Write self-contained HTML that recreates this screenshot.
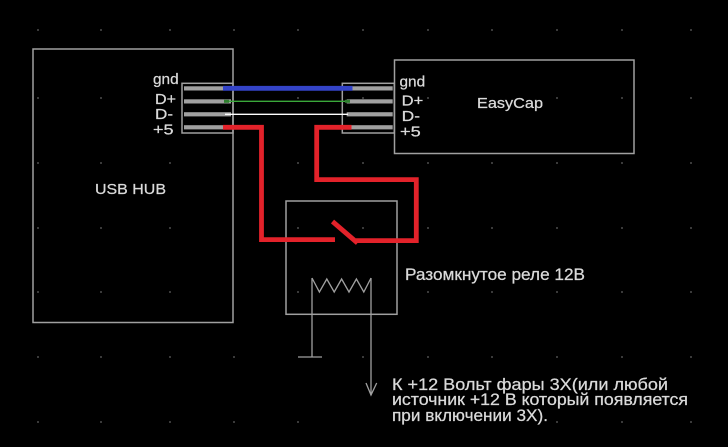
<!DOCTYPE html>
<html><head><meta charset="utf-8"><style>
html,body{margin:0;padding:0;background:#000;}
svg{display:block;}
text{font-family:"Liberation Sans","DejaVu Sans",sans-serif;font-size:15px;fill:#dadada;stroke:#dadada;stroke-width:0.25;}
text.big{font-size:16.5px;}
</style></head><body>
<svg width="728" height="447" viewBox="0 0 728 447" xmlns="http://www.w3.org/2000/svg">
<rect width="728" height="447" fill="#000"/>
<g fill="#3a3a3a">
<rect x="37" y="29" width="2" height="2"/><rect x="100" y="29" width="2" height="2"/><rect x="169" y="29" width="2" height="2"/><rect x="233" y="29" width="2" height="2"/><rect x="297" y="29" width="2" height="2"/><rect x="362" y="29" width="2" height="2"/><rect x="427" y="29" width="2" height="2"/><rect x="491" y="29" width="2" height="2"/><rect x="556" y="29" width="2" height="2"/><rect x="621" y="29" width="2" height="2"/><rect x="690" y="29" width="2" height="2"/>
<rect x="37" y="97" width="2" height="2"/><rect x="100" y="97" width="2" height="2"/><rect x="297" y="97" width="2" height="2"/><rect x="362" y="97" width="2" height="2"/><rect x="427" y="97" width="2" height="2"/><rect x="556" y="97" width="2" height="2"/><rect x="621" y="97" width="2" height="2"/><rect x="690" y="97" width="2" height="2"/>
<rect x="37" y="162" width="2" height="2"/><rect x="100" y="162" width="2" height="2"/><rect x="169" y="162" width="2" height="2"/><rect x="297" y="162" width="2" height="2"/><rect x="362" y="162" width="2" height="2"/><rect x="427" y="162" width="2" height="2"/><rect x="491" y="162" width="2" height="2"/><rect x="556" y="162" width="2" height="2"/><rect x="621" y="162" width="2" height="2"/><rect x="690" y="162" width="2" height="2"/>
<rect x="37" y="227" width="2" height="2"/><rect x="100" y="227" width="2" height="2"/><rect x="169" y="227" width="2" height="2"/><rect x="297" y="227" width="2" height="2"/><rect x="362" y="227" width="2" height="2"/><rect x="427" y="227" width="2" height="2"/><rect x="491" y="227" width="2" height="2"/><rect x="556" y="227" width="2" height="2"/><rect x="621" y="227" width="2" height="2"/><rect x="690" y="227" width="2" height="2"/>
<rect x="37" y="291" width="2" height="2"/><rect x="100" y="291" width="2" height="2"/><rect x="169" y="291" width="2" height="2"/><rect x="297" y="291" width="2" height="2"/><rect x="427" y="291" width="2" height="2"/><rect x="491" y="291" width="2" height="2"/><rect x="556" y="291" width="2" height="2"/><rect x="621" y="291" width="2" height="2"/><rect x="690" y="291" width="2" height="2"/>
<rect x="37" y="356" width="2" height="2"/><rect x="100" y="356" width="2" height="2"/><rect x="169" y="356" width="2" height="2"/><rect x="233" y="356" width="2" height="2"/><rect x="362" y="356" width="2" height="2"/><rect x="427" y="356" width="2" height="2"/><rect x="491" y="356" width="2" height="2"/><rect x="556" y="356" width="2" height="2"/><rect x="621" y="356" width="2" height="2"/><rect x="690" y="356" width="2" height="2"/>
<rect x="37" y="421" width="2" height="2"/><rect x="100" y="421" width="2" height="2"/><rect x="169" y="421" width="2" height="2"/><rect x="233" y="421" width="2" height="2"/><rect x="297" y="421" width="2" height="2"/><rect x="556" y="421" width="2" height="2"/><rect x="621" y="421" width="2" height="2"/><rect x="690" y="421" width="2" height="2"/>
</g>

<g fill="none" stroke="#a0a0a0" stroke-width="1.5">
<rect x="33" y="49" width="200" height="273.5"/>
<rect x="394.5" y="60" width="239.5" height="93.5"/>
<rect x="182" y="83.3" width="51" height="49.7"/>
<rect x="342.3" y="83.3" width="52" height="49.7"/>
<rect x="286" y="201" width="111" height="113.3"/>
</g>

<g fill="#a0a0a0">
<rect x="184" y="86.3" width="47" height="4.2"/>
<rect x="184" y="99.3" width="47" height="4.2"/>
<rect x="184" y="112.2" width="47" height="4.2"/>
<rect x="184" y="125.2" width="47" height="4.2"/>
<rect x="346.7" y="86.3" width="46" height="4.2"/>
<rect x="346.7" y="99.3" width="46" height="4.2"/>
<rect x="346.7" y="112.2" width="46" height="4.2"/>
<rect x="346.7" y="125.2" width="46" height="4.2"/>
</g>

<line x1="223" y1="88.3" x2="352.5" y2="88.3" stroke="#3444c8" stroke-width="4.8"/>
<line x1="225" y1="101.3" x2="350" y2="101.3" stroke="#3aa83a" stroke-width="1.4"/>
<rect x="224" y="99.8" width="5" height="3" fill="#2f7f2f"/>
<rect x="345" y="99.8" width="5" height="3" fill="#2f7f2f"/>
<line x1="225" y1="114.3" x2="348" y2="114.3" stroke="#ffffff" stroke-width="1.4"/>
<g fill="none" stroke="#e3222a" stroke-width="4.8" stroke-linejoin="miter">
<polyline points="223,127.3 261.5,127.3 261.5,239.6 335,239.6"/>
<line x1="332.5" y1="221.5" x2="357.5" y2="243"/>
<polyline points="356,240.6 416.3,240.6 416.3,179.6 316.7,179.6 316.7,127.3 351.5,127.3"/>
</g>

<g fill="none" stroke="#a0a0a0" stroke-width="1.3">
<polyline points="312,278 319.4,292 326.8,279 334.2,292 341.6,279 349,292 356.4,279 363.8,292 371,278"/>
<line x1="312" y1="278" x2="312" y2="357"/>
<line x1="298" y1="357" x2="322" y2="357"/>
<line x1="371" y1="278" x2="371" y2="395"/>
<polyline points="366,383 371,395 376.7,383"/>
</g>

<text x="95" y="194" textLength="71" lengthAdjust="spacingAndGlyphs">USB HUB</text>
<text x="477" y="108" textLength="66" lengthAdjust="spacingAndGlyphs">EasyCap</text>

<text x="153" y="84" textLength="25.6" lengthAdjust="spacingAndGlyphs">gnd</text>
<text x="155" y="104" textLength="21" lengthAdjust="spacingAndGlyphs">D+</text>
<text x="155" y="119" textLength="18" lengthAdjust="spacingAndGlyphs">D-</text>
<text x="153" y="134.5" textLength="20.5" lengthAdjust="spacingAndGlyphs">+5</text>

<text x="399.5" y="86.5" textLength="25.6" lengthAdjust="spacingAndGlyphs">gnd</text>
<text x="401.7" y="105.5" textLength="21.6" lengthAdjust="spacingAndGlyphs">D+</text>
<text x="401.7" y="121" textLength="18.3" lengthAdjust="spacingAndGlyphs">D-</text>
<text x="400" y="136.5" textLength="20.7" lengthAdjust="spacingAndGlyphs">+5</text>

<text class="big" x="405" y="280" textLength="180" lengthAdjust="spacingAndGlyphs">Разомкнутое реле 12В</text>

<text class="big" x="392" y="390" textLength="276" lengthAdjust="spacingAndGlyphs">К +12 Вольт фары 3Х(или любой</text>
<text class="big" x="392" y="405" textLength="296" lengthAdjust="spacingAndGlyphs">источник +12 В который появляется</text>
<text class="big" x="392" y="421" textLength="156" lengthAdjust="spacingAndGlyphs">при включении 3Х).</text>
</svg>
</body></html>
